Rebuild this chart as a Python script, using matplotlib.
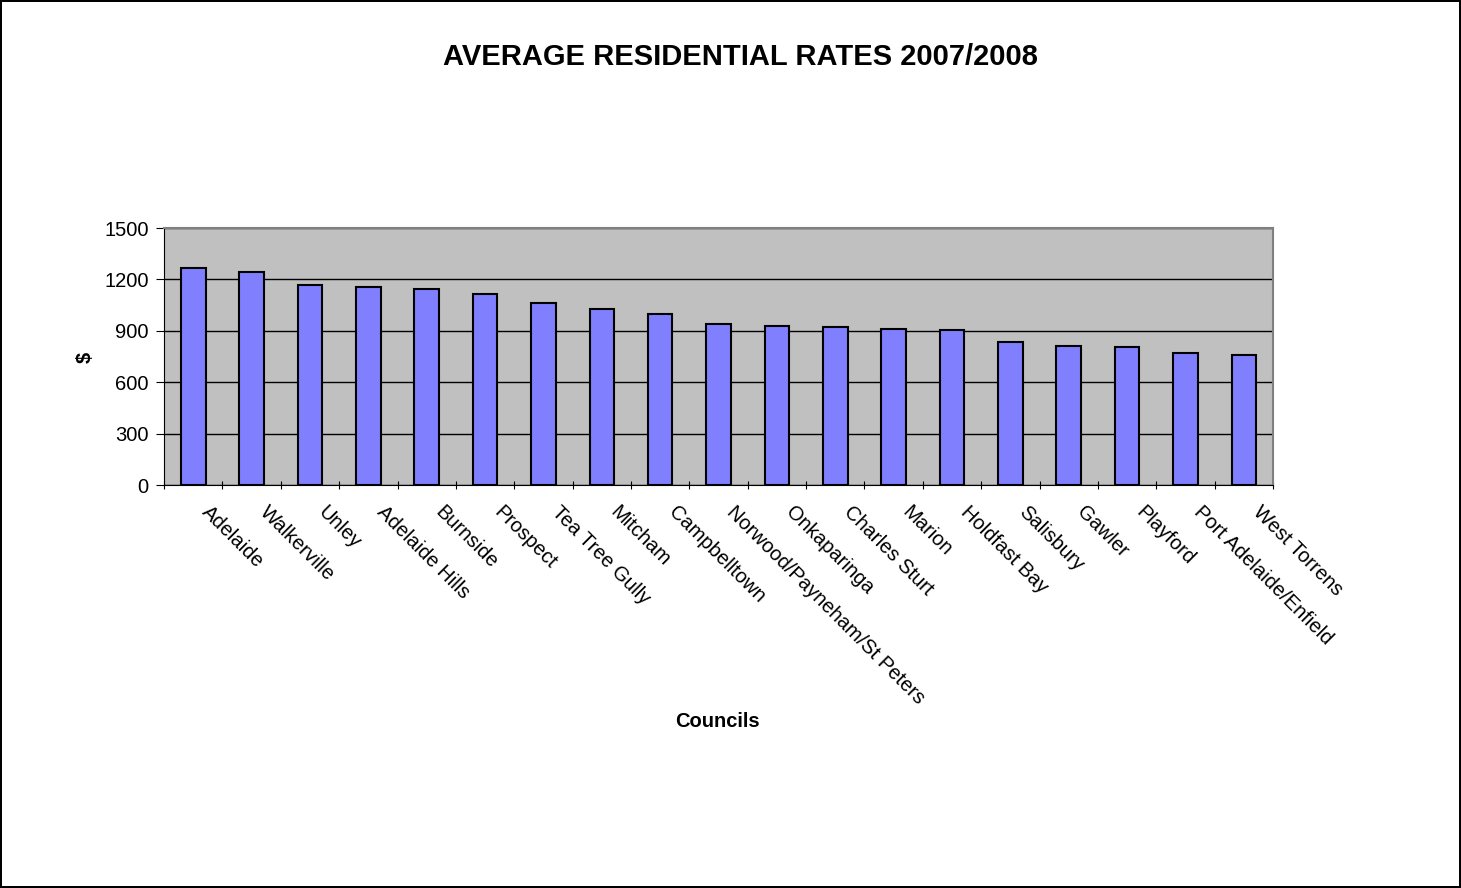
import matplotlib.pyplot as plt
import numpy as np

plt.rcParams['font.family'] = ['Liberation Sans', 'DejaVu Sans']

councils = ['Adelaide', 'Walkerville', 'Unley', 'Adelaide Hills', 'Burnside',
            'Prospect', 'Tea Tree Gully', 'Mitcham', 'Campbelltown',
            'Norwood/Payneham/St Peters', 'Onkaparinga', 'Charles Sturt',
            'Marion', 'Holdfast Bay', 'Salisbury', 'Gawler', 'Playford',
            'Port Adelaide/Enfield', 'West Torrens']
rates = [1265, 1245, 1169, 1157, 1147, 1116, 1060, 1029, 996,
         941, 931, 922, 912, 902, 834, 814, 804, 770, 760]
yticks = [0, 300, 600, 900, 1200, 1500]

fig = plt.figure(figsize=(14.61, 8.88), dpi=100)
fig.patch.set_edgecolor('black')
fig.patch.set_linewidth(1.5)
ax = fig.add_axes([0.1123, 0.4538, 0.759, 0.2894])
ax.set_facecolor('#C0C0C0')

x = np.arange(len(councils))
ax.bar(x, rates, width=0.42, color='#8080FF', edgecolor='black', linewidth=1.5, zorder=3)
ax.set_xlim(-0.5, len(councils) - 0.5)
ax.set_ylim(0, 1500)
ax.set_yticks(yticks)
ax.yaxis.grid(True, color='black', linewidth=1, zorder=1)
ax.tick_params(axis='y', labelsize=14.5, length=6, direction='out', pad=5)

# ticks between categories, labels placed as text
ax.set_xticks(np.arange(-0.5, len(councils), 1))
ax.set_xticklabels([])
ax.tick_params(axis='x', length=6, direction='inout')
for i, name in enumerate(councils):
    ax.text(i + 0.2, -140, name, rotation=-45, rotation_mode='anchor',
            ha='left', va='center', fontsize=14.5)

for s in ['top', 'right']:
    ax.spines[s].set_color('#808080')
    ax.spines[s].set_linewidth(1.5)
for s in ['left', 'bottom']:
    ax.spines[s].set_color('black')

fig.text(0.058, 0.598, '$', rotation=90, ha='center', va='center',
         fontsize=14.5, fontweight='bold')
fig.text(0.491, 0.187, 'Councils', ha='center', va='center', fontsize=14.5, fontweight='bold')
fig.text(0.507, 0.936, 'AVERAGE RESIDENTIAL RATES 2007/2008', ha='center', va='center',
         fontsize=21, fontweight='bold')

fig.savefig('out.png', dpi=100)
